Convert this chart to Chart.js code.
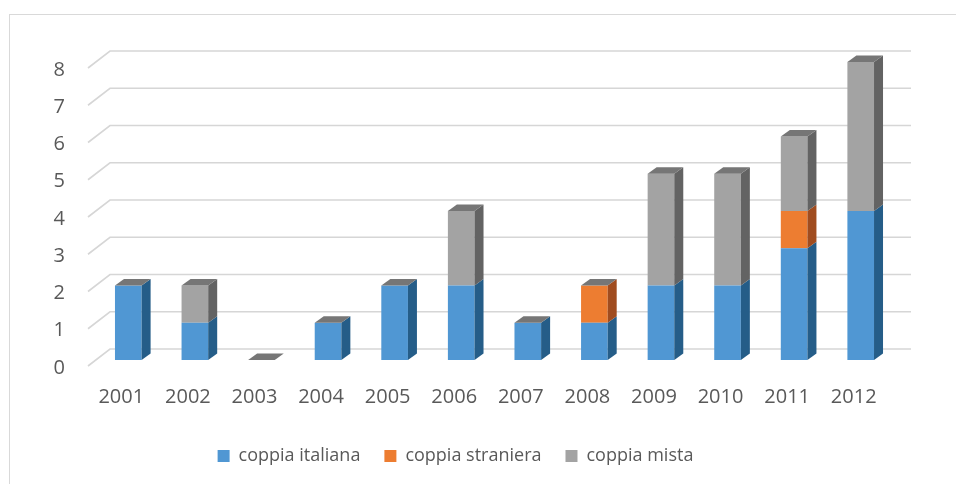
<!DOCTYPE html>
<html>
<head>
<meta charset="utf-8">
<script src="https://cdn.jsdelivr.net/npm/chart.js@4.4.1/dist/chart.umd.min.js"></script>
<style>
  html, body { margin: 0; padding: 0; background: #fff; }
  #frame { position: absolute; left: 9px; top: 14px; width: 1000px; height: 500px;
           border-left: 1px solid #d9d9d9; border-top: 1px solid #d9d9d9; }
  #wrap { position: absolute; left: 0; top: 0; width: 956px; height: 484px; }
</style>
</head>
<body>
<div id="frame"></div>
<div id="wrap"><canvas id="chart"></canvas></div>
<script>
// anni e valori
const years = ['2001', '2002', '2003', '2004', '2005', '2006', '2007', '2008', '2009', '2010', '2011', '2012'];
const coppiaItaliana = [2, 1, 0, 1, 2, 2, 1, 1, 2, 2, 3, 4];
const coppiaStraniera = [0, 0, 0, 0, 0, 0, 0, 1, 0, 0, 1, 0];
const coppiaMista = [0, 1, 0, 0, 0, 2, 0, 0, 3, 3, 2, 4];
const yTicks = [0, 1, 2, 3, 4, 5, 6, 7, 8];

// front / side / top colours for the fake 3d look
const colors = {
  italiana: { front: '#5097d3', side: '#255d88' },
  straniera: { front: '#ed7d31', side: '#a04c1f' },
  mista: { front: '#a3a3a3', side: '#636363' }
};
const topColor = '#767676';
const depth = { dx: 9, dy: -6.5 };

function poly(ctx, pts, fill) {
  ctx.beginPath();
  ctx.moveTo(pts[0][0], pts[0][1]);
  for (let i = 1; i < pts.length; i++) ctx.lineTo(pts[i][0], pts[i][1]);
  ctx.closePath();
  ctx.fillStyle = fill;
  ctx.fill();
}

// back wall gridlines with the little diagonal on the left
const wallGrid = {
  id: 'wallGrid',
  beforeDatasetsDraw(chart) {
    const ctx = chart.ctx;
    const area = chart.chartArea;
    const y = chart.scales.y;
    ctx.save();
    ctx.strokeStyle = '#d6d6d6';
    ctx.lineWidth = 1.6;
    yTicks.forEach((v) => {
      const p = y.getPixelForValue(v);
      ctx.beginPath();
      ctx.moveTo(area.left - 7, p + 6);
      ctx.lineTo(area.left + 15, p - 11);
      ctx.lineTo(area.right + 17, p - 11);
      ctx.stroke();
    });
    ctx.restore();
  }
};

const bars3d = {
  id: 'bars3d',
  afterDatasetsDraw(chart) {
    const ctx = chart.ctx;
    const n = chart.data.datasets.length;
    ctx.save();
    chart.data.datasets.forEach((ds, i) => {
      const meta = chart.getDatasetMeta(i);
      meta.data.forEach((bar) => {
        const b = bar.getProps(['x', 'y', 'base', 'width'], true);
        const x1 = b.x - b.width / 2;
        const x2 = b.x + b.width / 2;
        if (b.base - b.y > 0.5) {
          poly(ctx, [[x2, b.base], [x2, b.y], [x2 + depth.dx, b.y + depth.dy], [x2 + depth.dx, b.base + depth.dy]], ds.sideColor);
        }
        if (i === n - 1) {
          poly(ctx, [[x1, b.y], [x2, b.y], [x2 + depth.dx, b.y + depth.dy], [x1 + depth.dx, b.y + depth.dy]], topColor);
        }
      });
    });
    ctx.restore();
  }
};

const ctx = document.getElementById('chart').getContext('2d');
const chart = new Chart(ctx, {
  type: 'bar',
  data: {
    labels: years,
    datasets: [
      { label: 'coppia italiana', data: coppiaItaliana, backgroundColor: colors.italiana.front, sideColor: colors.italiana.side },
      { label: 'coppia straniera', data: coppiaStraniera, backgroundColor: colors.straniera.front, sideColor: colors.straniera.side },
      { label: 'coppia mista', data: coppiaMista, backgroundColor: colors.mista.front, sideColor: colors.mista.side }
    ]
  },
  options: {
    responsive: true,
    maintainAspectRatio: false,
    animation: false,
    layout: { padding: { left: 17, right: 62, top: 62, bottom: 9 } },
    datasets: {
      bar: { barPercentage: 0.4, categoryPercentage: 1, borderWidth: 0 }
    },
    scales: {
      x: {
        stacked: true,
        grid: { display: false, drawTicks: false },
        border: { display: false },
        ticks: { color: '#595959', font: { family: 'Open Sans', size: 20 }, padding: 25, labelOffset: -7, maxRotation: 0 },
        afterFit: (scale) => { scale.height = 63; }
      },
      y: {
        stacked: true,
        min: 0,
        max: 8,
        grid: { display: false, drawTicks: false },
        border: { display: false },
        ticks: { stepSize: 1, color: '#595959', font: { family: 'Open Sans', size: 20 }, padding: 30, labelOffset: 8 },
        afterFit: (scale) => { scale.width = 78; }
      }
    },
    plugins: {
      legend: {
        position: 'bottom',
        labels: {
          boxWidth: 12,
          boxHeight: 12,
          padding: 24,
          color: '#595959',
          font: { family: 'Open Sans', size: 18 }
        }
      },
      tooltip: { enabled: false }
    }
  },
  plugins: [wallGrid, bars3d]
});
</script>
</body>
</html>
